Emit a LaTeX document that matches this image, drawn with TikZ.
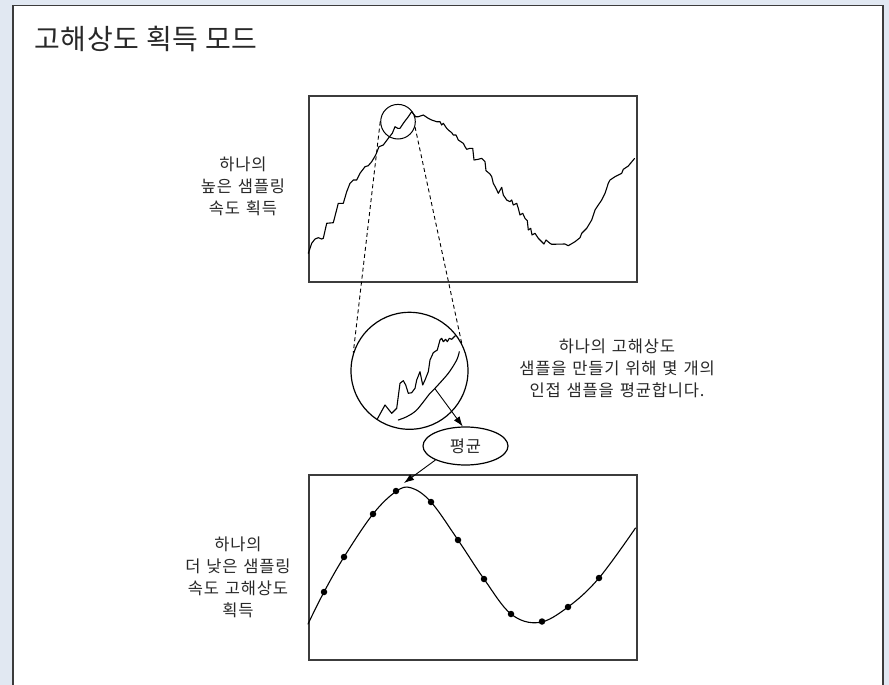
\documentclass[tikz,border=0pt]{standalone}
\usepackage{fontspec}
\setmainfont{Noto Sans CJK KR}
\newfontfamily\lblfont[LetterSpace=5,WordSpace=1.3]{Noto Sans CJK KR}
\newfontfamily\ttlfont[LetterSpace=2.5]{Noto Sans CJK KR}
\usetikzlibrary{shapes.geometric,arrows.meta}
\definecolor{bgc}{RGB}{225,232,242}
\definecolor{framec}{RGB}{60,60,60}
\definecolor{txtc}{RGB}{40,40,40}
\tikzset{
  plotbox/.style={draw=framec, line width=2pt},
  trace/.style={line width=1.1pt, line join=round, line cap=round},
  zoomline/.style={dashed, dash pattern=on 4pt off 3pt, line width=0.9pt},
  lbl/.style={align=center, text=txtc, font=\lblfont\fontsize{16.5}{22}\selectfont},
  arr/.style={line width=0.9pt, -{Latex[length=10pt,width=7pt]}},
  dotpt/.style={fill=black, circle, inner sep=0pt, minimum size=6.5pt}
}
\begin{document}
\begin{tikzpicture}[x=1pt,y=-1pt]
\useasboundingbox (0,0) rectangle (889,685);
\clip (0,0) rectangle (889,685);
\fill[bgc] (0,0) rectangle (889,685);
\draw[framec, fill=white, line width=1.6pt] (12.7,5.7) rectangle (882.7,705);

\node[anchor=base west, text=txtc, font=\ttlfont\fontsize{28}{32}\selectfont, inner sep=0pt] (title) at (34,50) {고해상도 획득 모드};

% top plot
\node[plotbox, minimum width=328pt, minimum height=186pt, inner sep=0pt, anchor=north west] (topbox) at (308,95) {};
\draw[trace] plot coordinates {(308.3,253.3) (311.7,243.3) (315,239) (318.3,237.7) (321.7,239) (323.3,238.3) (326.7,223.3) (333.3,222.7) (338.3,203.3) (343.3,203.3) (346.7,191.7) (350,183.3) (353.3,180) (356.7,180) (360,173.3) (365,166.7) (368.3,165.7) (371.7,161.7) (375.7,155) (379,146.7) (383.3,145) (388.3,138.3) (392.3,133.3) (395,126.7) (397.7,128.3) (400,128.3) (403.3,123.3) (408.3,116.7) (411.7,111.7) (415.7,116.7) (418.3,116.7) (423.3,115) (428.3,118.3) (431.7,120) (436.7,121.7) (440,121.7) (441.7,125) (443.3,123.3) (446.7,128.3) (448.3,130) (451.7,132.7) (453.3,135) (456,135) (458.3,140) (463.3,143.3) (465,146.7) (466.7,149.3) (470,148.3) (472.7,148.3) (474,160) (478.3,159.3) (481.7,158.3) (485,161.7) (486,170.7) (490,174) (491.7,176.7) (493.3,183.3) (496,188.3) (498.3,193.3) (501.7,187.3) (503.3,195) (506.7,200) (510,201.7) (511.7,200) (513.3,205) (516.7,203.3) (518.3,208.3) (520,215) (522.7,213.3) (525,218.3) (527.3,220.7) (528.3,230) (530.7,228.3) (532,235) (535,233.3) (538.3,238.3) (541.7,241.7) (544,244) (546,240) (550,243.3) (551.7,244.3) (565,244) (568.3,245.7) (575,241.7) (580,237.7) (581.7,233.3) (586.7,228.3) (591.7,220) (595,210) (598.3,205) (601.7,200) (605,193.3) (608.3,183.3) (610,180) (615,176.7) (621.7,173.3) (623.3,169.3) (628.3,166) (634.5,158.5)};
\node[draw, circle, line width=1pt, minimum size=34.6pt, inner sep=0pt] (zc) at (398,121.7) {};

% big zoom circle
\node[draw, circle, line width=1.2pt, minimum size=117pt, inner sep=0pt] (bc) at (409.5,370.8) {};
\begin{scope}
\clip (409.5,370.8) circle[radius=58pt];
\draw[trace] plot coordinates {(372,428) (377.7,418.3) (385,405) (391.7,413.3) (396.7,408.3) (400,383.3) (403.3,380.7) (405.7,385) (408.3,393.3) (411.7,392.7) (415,388.3) (416.7,380) (420,371.7) (422.7,385) (425,380) (428.3,371.7) (430,360) (433.3,352.7) (437.3,350) (440,340) (441.7,338.3) (443.3,341.7) (445.7,339.3) (447.3,341.7) (449.3,338.3) (451.7,339.3) (455,336) (460,333) (470,325)};
\end{scope}
\draw[trace] plot[smooth] coordinates {(398.3,420) (406.7,416.7) (416.7,410) (430,393.3) (435,388.3) (448.3,373.3) (456.7,360) (459.3,351.7)};
\coordinate (jn) at (435,388.8);

\draw[zoomline] (zc.180) -- (bc.162);
\draw[zoomline] (zc.-17) -- (bc.28);

% average ellipse
\node[draw, ellipse, line width=1.2pt, minimum width=85pt, minimum height=38pt, inner sep=0pt, lbl] (avg) at (465.5,446) {평균};
\draw[arr] (jn) -- (avg.98);

% bottom plot
\node[plotbox, minimum width=328pt, minimum height=185pt, inner sep=0pt, anchor=north west] (botbox) at (308,474) {};
\draw[trace] plot[smooth, tension=0.6] coordinates {(308,624) (324,592) (344,557) (373,514) (396,491.5) (411,487.8) (431,502) (458,540) (484,579) (511,614) (539,622.5) (568,607) (599,578) (635.5,528)};
\foreach \p/\q [count=\i] in {324/592, 344/557, 373/514, 396/491, 431/502, 458/540, 484/579, 511/614, 542/621.5, 568/607, 599/578}
  \node[dotpt] (d\i) at (\p,\q) {};
\coordinate (pk) at (404,483);
\draw[arr] (avg.205) -- (pk);

% labels
\node[lbl] (lab1) at (243,186) {하나의\\높은 샘플링\\속도 획득};
\node[lbl] (lab2) at (617,368) {하나의 고해상도\\샘플을 만들기 위해 몇 개의\\인접 샘플을 평균합니다.};
\node[lbl] (lab3) at (238,577.5) {하나의\\더 낮은 샘플링\\속도 고해상도\\획득};
\end{tikzpicture}
\end{document}
